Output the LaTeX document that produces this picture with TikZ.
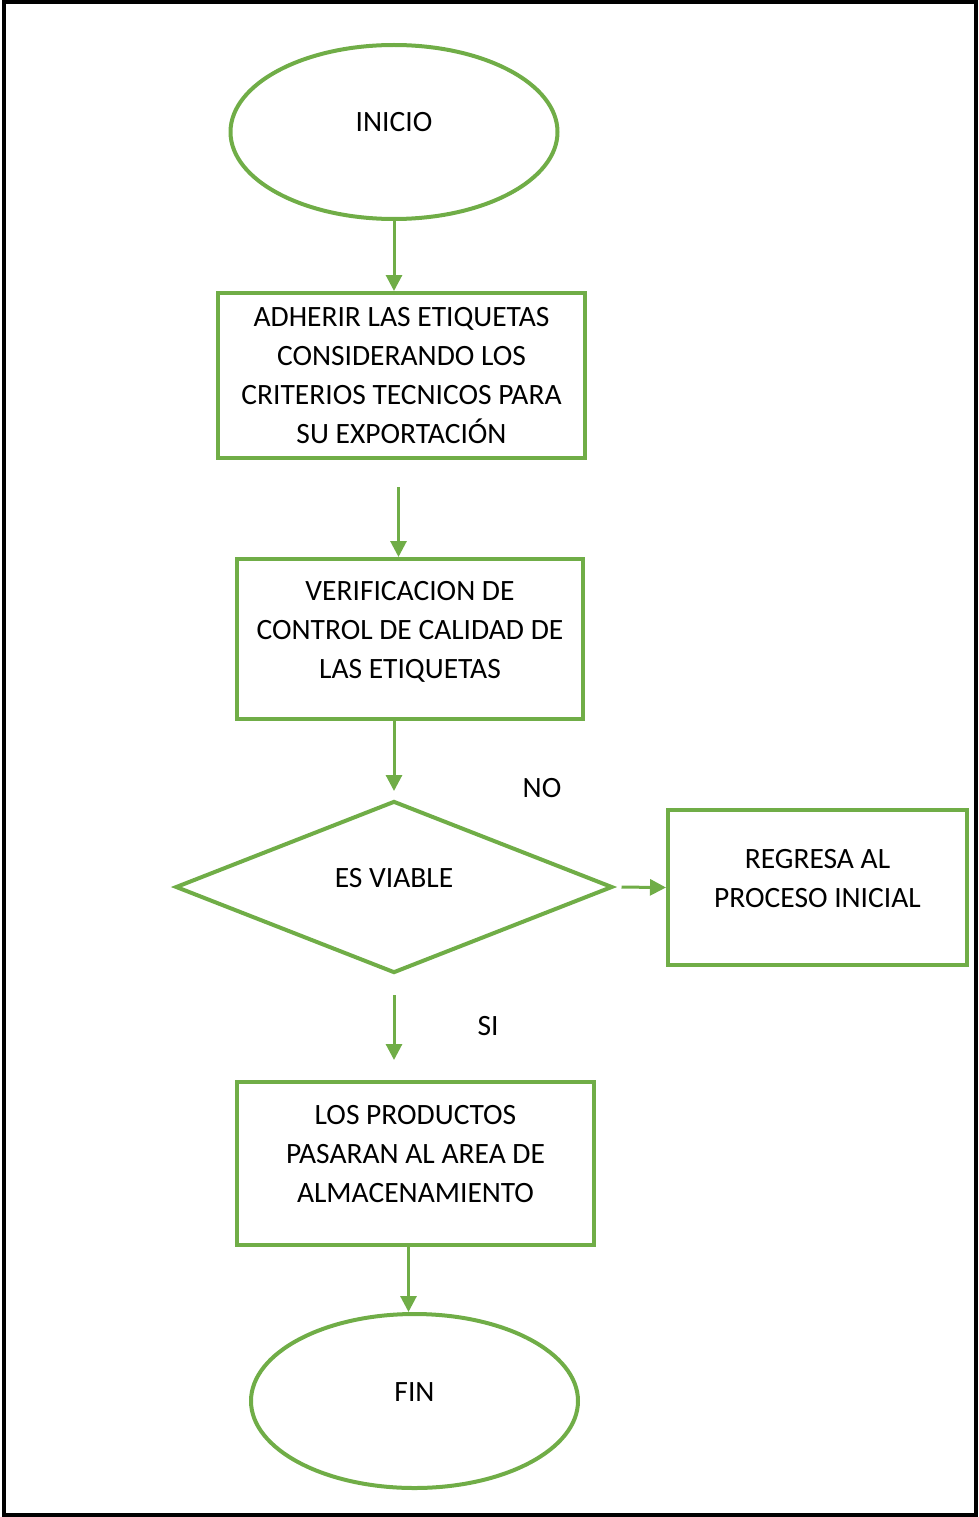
\documentclass[tikz,border=0pt]{standalone}
\usepackage{fontspec}
\setmainfont{Carlito}
\usetikzlibrary{shapes.geometric,arrows.meta}
\definecolor{leafgreen}{HTML}{70AD47}
\begin{document}
\begin{tikzpicture}[x=1pt, y=-1pt,
        font=\fontsize{29.5}{39}\selectfont,
        outline/.style={draw=leafgreen, line width=4pt, inner sep=0pt, align=center},
        terminal/.style={outline, ellipse, minimum width=327pt, minimum height=174pt},
        box/.style={outline, rectangle},
        decision/.style={outline, diamond, minimum width=437pt, minimum height=172pt},
        lifted/.style={text height=#1, text depth=19pt},
        arrow/.style={draw=leafgreen, line width=3pt, -{Triangle[length=16pt, width=16pt]}}
    ]
    \useasboundingbox (0,0) rectangle (978,1517);
    \draw[line width=4pt] (4,2) rectangle (976,1515);

    \node[terminal, lifted=19pt] (inicio) at (394,132) {INICIO};
    \node[box, minimum width=367pt, minimum height=165pt, text height=136pt, text depth=-8pt] (etiquetas) at (401.5,375.5)
        {ADHERIR LAS ETIQUETAS\\CONSIDERANDO LOS\\CRITERIOS TECNICOS PARA\\SU EXPORTACIÓN};
    \node[box, minimum width=346pt, minimum height=160pt, lifted=97pt] (control) at (410,639)
        {VERIFICACION DE\\CONTROL DE CALIDAD DE\\LAS ETIQUETAS};
    \node[decision, lifted=19pt] (viable) at (394,887) {ES VIABLE};
    \node[box, minimum width=299pt, minimum height=155pt, lifted=58pt] (regresa) at (817.5,887.5)
        {REGRESA AL\\PROCESO INICIAL};
    \node[box, minimum width=357pt, minimum height=163pt, lifted=97pt] (almacen) at (415.5,1163.5)
        {LOS PRODUCTOS\\PASARAN AL AREA DE\\ALMACENAMIENTO};
    \node[terminal, lifted=19pt] (fin) at (414.5,1401) {FIN};

    \node (no) at (542,788) {NO};
    \node (si) at (488,1026) {SI};

    \draw[arrow] (inicio.south) -- (inicio.south |- etiquetas.north);
    \draw[arrow, shorten <=27pt] ([xshift=-3pt]etiquetas.south) -- ([xshift=-3pt]etiquetas.south |- control.north);
    \draw[arrow, shorten >=8pt] (viable.north |- control.south) -- (viable.north);
    \draw[arrow, shorten <=7pt] (viable.east) -- (regresa.west);
    \draw[arrow, shorten <=20pt, shorten >=20pt] (viable.south) -- (viable.south |- almacen.north);
    \draw[arrow, shorten <=-4pt] ([xshift=-7pt]almacen.south) -- ([xshift=-7pt]almacen.south |- fin.north);
\end{tikzpicture}
\end{document}
